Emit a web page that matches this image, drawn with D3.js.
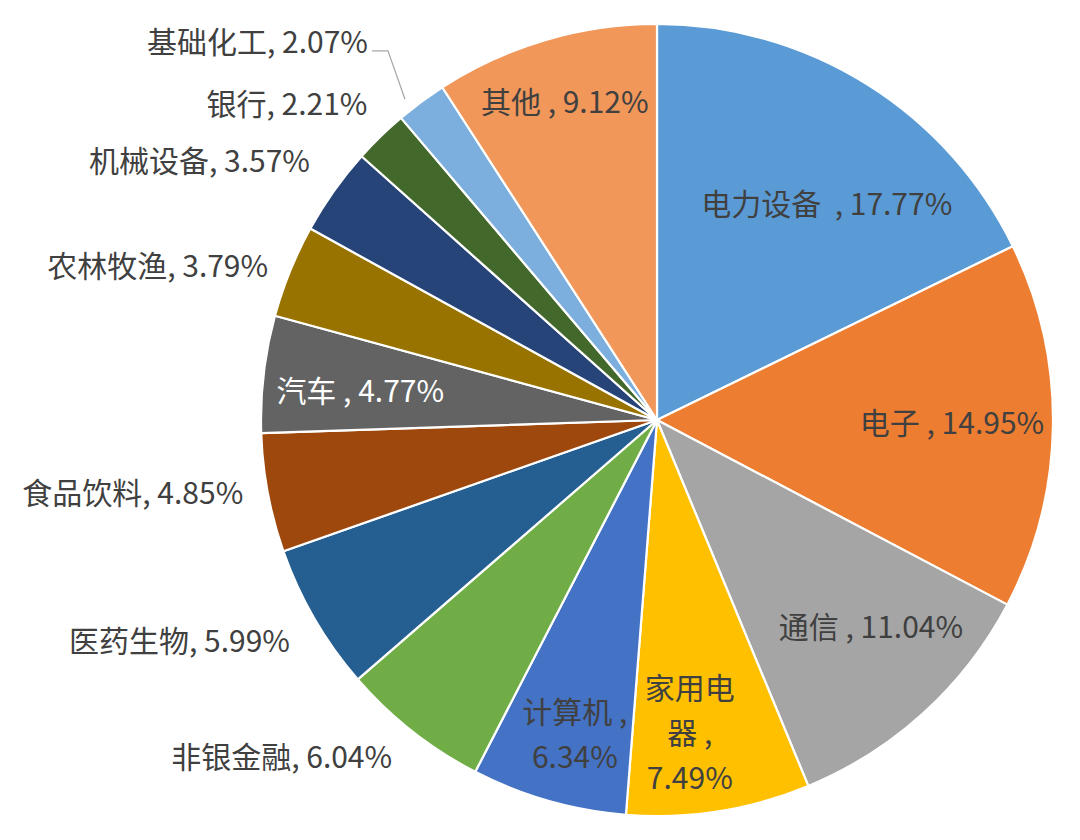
<!DOCTYPE html>
<html>
<head>
<meta charset="utf-8">
<script src="https://cdn.jsdelivr.net/npm/d3@7"></script>
<style>
  html, body { margin: 0; padding: 0; background: #ffffff; }
  svg { display: block; }
  text { font-family: "Noto Sans CJK SC", "Noto Sans", sans-serif; }
</style>
</head>
<body>
<svg id="chart" width="1080" height="840"></svg>
<script>
// ---- data ----
const categories = ["电力设备", "电子", "通信", "家用电器", "计算机", "非银金融", "医药生物",
                    "食品饮料", "汽车", "农林牧渔", "机械设备", "银行", "基础化工", "其他"];
const values = [17.77, 14.95, 11.04, 7.49, 6.34, 6.04, 5.99, 4.85, 4.77, 3.79, 3.57, 2.21, 2.07, 9.12];
const labelLines = [
  ["电力设备  , 17.77%"],
  ["电子 , 14.95%"],
  ["通信 , 11.04%"],
  ["家用电", "器 ,", "7.49%"],
  ["计算机 ,", "6.34%"],
  ["非银金融, 6.04%"],
  ["医药生物, 5.99%"],
  ["食品饮料, 4.85%"],
  ["汽车 , 4.77%"],
  ["农林牧渔, 3.79%"],
  ["机械设备, 3.57%"],
  ["银行, 2.21%"],
  ["基础化工, 2.07%"],
  ["其他 , 9.12%"]
];

// ---- styles / layout ----
const colors = ["#5B9BD5", "#ED7D31", "#A5A5A5", "#FFC000", "#4472C4", "#70AD47", "#255E91",
                "#9E480E", "#636363", "#997300", "#264478", "#43682B", "#7CAFDD", "#F1975A"];
// label placement: inside/outside, radius factor, angle shift (deg) from slice mid-angle
const labelPlace = [
  {out: false, r: 0.692, da: 6.3},
  {out: false, r: 0.745, da: -0.3},
  {out: false, r: 0.753, da: -3.5},
  {out: false, r: 0.795, da: 3.0},
  {out: false, r: 0.822, da: -1.3},
  {out: true,  r: 1.084, da: -0.1},
  {out: true,  r: 1.083, da: -1.0},
  {out: true,  r: 1.061, da: 0.6},
  {out: false, r: 0.753, da: -1.1, color: "#ffffff"},
  {out: true,  r: 1.056, da: -0.5},
  {out: true,  r: 1.092, da: 1.3},
  {out: true,  r: 1.081, da: 1.7},
  {out: true,  r: 1.200, da: -0.9, leader: true},
  {out: false, r: 0.834, da: 0.2}
];

const width = 1080, height = 840;
const cx = 657, cy = 420, R = 396;
const fontSize = 30, lineH = 45;
const textColor = "#404040";

const svg = d3.select("#chart");
const g = svg.append("g").attr("transform", `translate(${cx},${cy})`);

const data = categories.map((c, i) => ({name: c, value: values[i], i}));
const pie = d3.pie().value(d => d.value).sort(null);
const arcs = pie(data);
const arc = d3.arc().innerRadius(0).outerRadius(R);

g.selectAll("path.slice")
  .data(arcs)
  .join("path")
  .attr("class", "slice")
  .attr("d", arc)
  .attr("fill", d => colors[d.data.i])
  .attr("stroke", "#ffffff")
  .attr("stroke-width", 2.2)
  .attr("stroke-linejoin", "round");

function polar(angle, r) {
  return [r * Math.sin(angle), -r * Math.cos(angle)];
}

arcs.forEach(a => {
  const i = a.data.i;
  const p = labelPlace[i];
  const mid = (a.startAngle + a.endAngle) / 2 + p.da * Math.PI / 180;
  const [x, y] = polar(mid, p.r * R);
  const lines = labelLines[i];
  const t = g.append("text")
    .attr("x", x)
    .attr("y", y)
    .attr("font-size", fontSize)
    .attr("fill", p.color || textColor)
    .attr("text-anchor", p.out ? "end" : "middle")
    .style("white-space", "pre");
  const y0 = -(lines.length - 1) * lineH / 2;
  lines.forEach((ln, k) => {
    t.append("tspan")
      .attr("x", x)
      .attr("y", y + y0 + k * lineH)
      .attr("dy", "0.35em")
      .text(ln);
  });
  if (p.leader) {
    const [ex, ey] = polar((a.startAngle + a.endAngle) / 2 - 1.6 * Math.PI / 180, R * 1.03);
    const sx = x + 4, sy = y + 8;
    g.append("polyline")
      .attr("points", [[sx, sy], [sx + 16, sy], [ex, ey]].map(q => q.join(",")).join(" "))
      .attr("fill", "none")
      .attr("stroke", "#a6a6a6")
      .attr("stroke-width", 1.2);
  }
});
</script>
</body>
</html>
